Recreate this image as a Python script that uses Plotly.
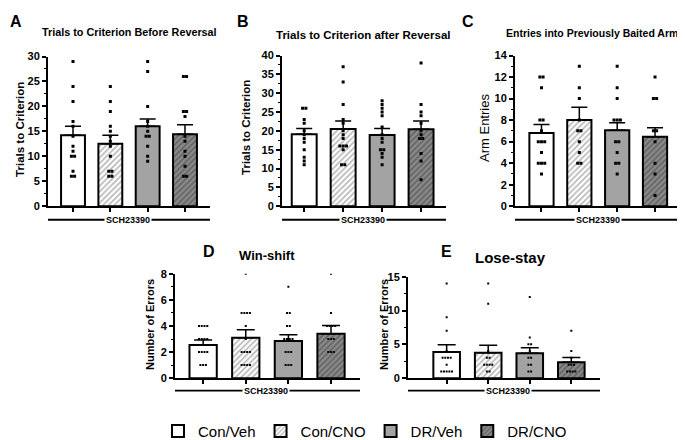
import plotly.graph_objects as go
from collections import Counter

W, H = 685, 440

groups = ["Con/Veh", "Con/CNO", "DR/Veh", "DR/CNO"]

# ---- Panel A: Trials to Criterion Before Reversal
a_mean = [14.2, 12.5, 16.0, 14.4]
a_sem = [1.8, 1.7, 1.5, 1.9]
a_pts = [
    [29, 24, 21, 17, 16, 14, 12, 11, 10, 10, 7, 6, 6],
    [24, 21, 19, 16, 15, 14, 13, 12, 10, 7, 7, 6, 6],
    [29, 27, 20, 17, 16, 15, 14, 14, 12, 10, 9],
    [26, 26, 19, 19, 18, 14, 13, 11, 10, 8, 6, 6],
]
# ---- Panel B: Trials to Criterion after Reversal
b_mean = [19.1, 20.5, 18.9, 20.4]
b_sem = [1.5, 2.1, 1.7, 2.2]
b_pts = [
    [26, 26, 23, 22, 20, 19, 18, 17, 15, 13, 12, 11],
    [37, 33, 27, 23, 22, 20, 19, 18, 16, 16, 16, 15, 11, 11],
    [28, 27, 26, 25, 24, 21, 19, 18, 17, 15, 15, 14, 13, 11],
    [38, 27, 25, 24, 22, 20, 19, 18, 18, 14, 12, 7],
]
# ---- Panel C: Entries into Previously Baited Arm
c_mean = [6.8, 8.0, 7.05, 6.45]
c_sem = [0.8, 1.2, 0.7, 0.85]
c_pts = [
    [12, 12, 11, 8, 8, 7, 6, 6, 6, 5, 4, 4, 4, 3],
    [13, 11, 10, 8, 7, 7, 6, 5, 4, 4],
    [13, 11, 10, 8, 8, 8, 6, 6, 5, 4, 4, 3],
    [12, 10, 10, 7, 7, 6, 4, 3, 1],
]
# ---- Panel D: Win-shift
d_mean = [2.55, 3.1, 2.85, 3.4]
d_sem = [0.38, 0.62, 0.47, 0.63]
d_pts = [
    [4, 4, 4, 4, 3, 3, 3, 3, 2, 2, 2, 2, 1, 1, 1],
    [8, 5, 5, 5, 5, 4, 3, 2, 2, 2, 2, 1, 1, 1, 1],
    [7, 5, 5, 4, 4, 3, 3, 3, 3, 2, 2, 2, 1, 1, 1],
    [8, 5, 4, 4, 4, 4, 3, 3, 3, 2, 2, 2],
]
# ---- Panel E: Lose-stay
e_mean = [3.85, 3.75, 3.7, 2.35]
e_sem = [1.1, 1.1, 0.8, 0.7]
e_pts = [
    [14, 9, 7, 4, 3, 3, 3, 3, 2, 1, 1, 1, 1, 1],
    [14, 11, 4, 3, 3, 2, 2, 2, 2, 1, 1],
    [12, 6, 5, 5, 4, 3, 3, 2, 2, 1, 1],
    [7, 4, 3, 2, 2, 2, 1, 1, 1, 1],
]

titles = ["Trials to Criterion Before Reversal", "Trials to Criterion after Reversal",
          "Entries into Previously Baited Arm", "Win-shift", "Lose-stay"]
letters = ["A", "B", "C", "D", "E"]
ylabels = ["Trials to Criterion", "Trials to Criterion", "Arm Entries",
           "Number of Errors", "Number of Errors"]
drug_label = "SCH23390"

# ---- styles / layout (pixels)
fills = ["#ffffff", "#ffffff", "#a3a3a3", "#8a8a8a"]
hatch = ["", "/", "", "/"]
hatch_fg = ["#000000", "#6e6e6e", "#000000", "#3a3a3a"]

panels = [
    dict(mean=a_mean, sem=a_sem, pts=a_pts, xd=(40, 202), yd=(44, 199), xr=(-0.67, 3.67),
         ymax=30, dtick=5, minor=2.5, title=(121, 19, 10.8, "center"), letter=(8, 8),
         ylab=(12, 120, 11.5, True), sch=(213, 120), dot=3, step=0.085, cap=8),
    dict(mean=b_mean, sem=b_sem, pts=b_pts, xd=(274, 438), yd=(43, 199), xr=(-0.57, 3.64),
         ymax=40, dtick=5, minor=2.5, title=(355, 22, 11.5, "center"), letter=(235, 8),
         ylab=(238, 118, 11.5, True), sch=(213, 355), dot=3, step=0.085, cap=8),
    dict(mean=c_mean, sem=c_sem, pts=c_pts, xd=(507, 672), yd=(43, 199), xr=(-0.7, 3.66),
         ymax=14, dtick=2, minor=1, title=(672, 20, 10.5, "right"), letter=(460, 8),
         ylab=(477, 118, 13, False), sch=(213, 590), dot=3, step=0.085, cap=8),
    dict(mean=d_mean, sem=d_sem, pts=d_pts, xd=(167, 352), yd=(269, 377), xr=(-0.66, 3.68),
         ymax=8, dtick=2, minor=1, title=(259, 250, 13, "center"), letter=(201, 246),
         ylab=(142, 322, 11, True), sch=(390, 258), dot=2, step=0.065, cap=9),
    dict(mean=e_mean, sem=e_sem, pts=e_pts, xd=(400, 592), yd=(272, 377), xr=(-0.93, 3.69),
         ymax=15, dtick=5, minor=2.5, title=(502, 252, 15, "center"), letter=(439, 246),
         ylab=(376, 322, 11, True), sch=(390, 500), dot=2, step=0.065, cap=9),
]

FONT = "Liberation Sans, Arial, sans-serif"


def b(s):
    return "<b>" + s + "</b>"


def spread(vals, step):
    tot = Counter(vals)
    seen = {}
    out = []
    for v in vals:
        k = seen.get(v, 0)
        seen[v] = k + 1
        out.append((k - (tot[v] - 1) / 2) * step)
    return out


def px(x):
    return x / W


def py(y):
    return 1 - y / H


fig = go.Figure()
annotations = []
shapes = []
layout_axes = {}

for i, p in enumerate(panels):
    n = "" if i == 0 else str(i + 1)
    xa, ya = "x" + n, "y" + n
    for g in range(4):
        fig.add_trace(go.Bar(
            x=[g], y=[p["mean"][g]], width=0.64, name=groups[g],
            xaxis=xa, yaxis=ya, legendgroup=groups[g], showlegend=(i == 0),
            marker=dict(color=fills[g], line=dict(color="black", width=2),
                        pattern=dict(shape=hatch[g], fgcolor=hatch_fg[g], bgcolor=fills[g],
                                     size=4, solidity=0.4)),
            error_y=dict(type="data", symmetric=False, array=[p["sem"][g]], arrayminus=[0],
                         color="black", thickness=1.5, width=p["cap"]),
        ))
    for g in range(4):
        vals = p["pts"][g]
        offs = spread(vals, p["step"])
        fig.add_trace(go.Scatter(
            x=[g + o for o in offs], y=vals, mode="markers", xaxis=xa, yaxis=ya,
            showlegend=False, hoverinfo="skip",
            marker=dict(symbol="square", size=p["dot"], color="black", line=dict(width=0)),
        ))
    ytv = list(range(0, p["ymax"] + 1, p["dtick"]))
    layout_axes["xaxis" + n] = dict(
        domain=[px(p["xd"][0]), px(p["xd"][1])], range=list(p["xr"]), anchor=ya,
        showgrid=False, zeroline=False, showline=True, linecolor="black", linewidth=2,
        tickmode="array", tickvals=[0, 1, 2, 3], ticktext=["", "", "", ""],
        ticks="outside", ticklen=4, tickwidth=1.5, tickcolor="black", fixedrange=True,
    )
    layout_axes["yaxis" + n] = dict(
        domain=[py(p["yd"][1]), py(p["yd"][0])], range=[0, p["ymax"]], anchor=xa,
        showgrid=False, zeroline=False, showline=True, linecolor="black", linewidth=2,
        tickmode="array", tickvals=ytv, ticktext=[b(str(v)) for v in ytv],
        ticks="outside", ticklen=4, tickwidth=1.5, tickcolor="black",
        tickfont=dict(family=FONT, size=11, color="black"),
        minor=dict(dtick=p["minor"], tick0=0, ticks="outside", ticklen=2, tickwidth=1,
                   tickcolor="black"),
        fixedrange=True,
    )
    tx, ty, ts, tanchor = p["title"]
    annotations.append(dict(x=px(tx), y=py(ty), xref="paper", yref="paper", text=b(titles[i]),
                            showarrow=False, xanchor=tanchor, yanchor="middle",
                            font=dict(family=FONT, size=ts, color="black")))
    lx, ly = p["letter"]
    annotations.append(dict(x=px(lx), y=py(ly), xref="paper", yref="paper", text=b(letters[i]),
                            showarrow=False, xanchor="center", yanchor="middle",
                            font=dict(family=FONT, size=16, color="black")))
    yx, yy, ys, ybold = p["ylab"]
    annotations.append(dict(x=px(yx), y=py(yy), xref="paper", yref="paper",
                            text=b(ylabels[i]) if ybold else ylabels[i],
                            showarrow=False, textangle=-90, xanchor="center", yanchor="middle",
                            font=dict(family=FONT, size=ys, color="black")))
    sy, sx = p["sch"]
    shapes.append(dict(type="line", xref="paper", yref="paper",
                       x0=px(p["xd"][0]), x1=px(p["xd"][1]), y0=py(sy), y1=py(sy),
                       line=dict(color="black", width=1.8)))
    annotations.append(dict(x=px(sx), y=py(sy), xref="paper", yref="paper", text=b(drug_label),
                            showarrow=False, xanchor="center", yanchor="middle",
                            bgcolor="white", borderpad=1,
                            font=dict(family=FONT, size=9, color="black")))

fig.update_layout(
    width=W, height=H, margin=dict(l=0, r=0, t=0, b=0),
    paper_bgcolor="white", plot_bgcolor="white", barmode="overlay",
    annotations=annotations, shapes=shapes,
    legend=dict(orientation="h", x=px(150), y=py(432), xanchor="left", yanchor="middle",
                font=dict(family=FONT, size=15, color="black"), bgcolor="rgba(0,0,0,0)",
                traceorder="normal", itemclick=False, itemdoubleclick=False),
    **layout_axes,
)

fig.write_html("out.html")
